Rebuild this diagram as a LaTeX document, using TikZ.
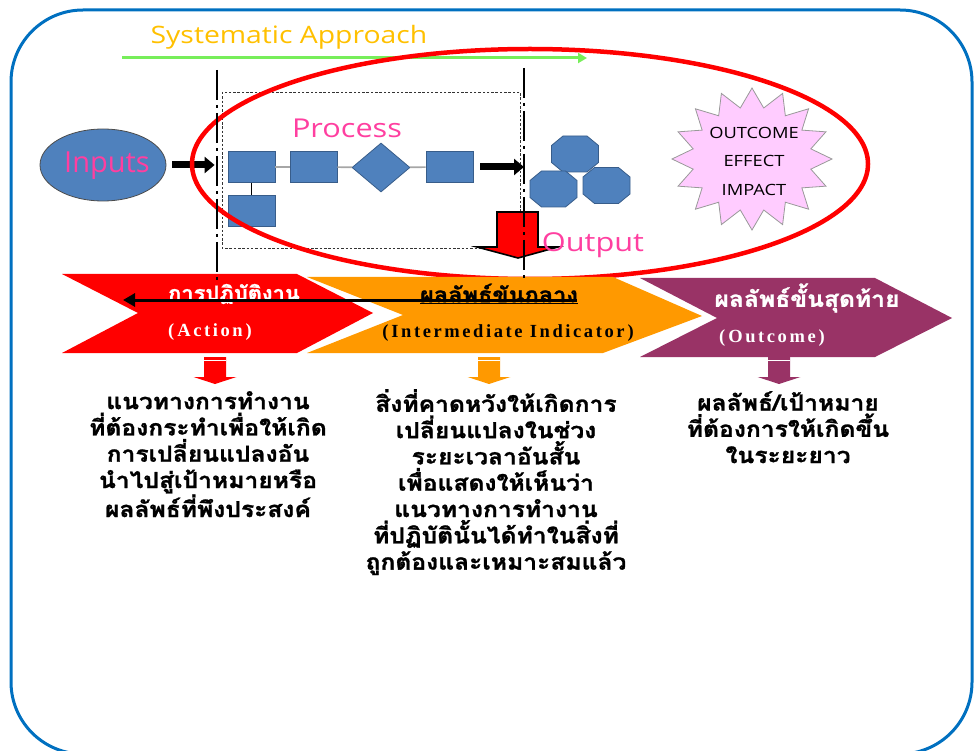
\documentclass[tikz,border=0pt]{standalone}
\usepackage{fontspec}
\setmainfont{Liberation Serif}
\newfontfamily\thaifont[Script=Thai, FakeStretch=1.12, BoldFeatures={FakeBold=1.2}]{Loma}
\newfontfamily\uisans{Open Sans}
\newfontfamily\uiwide[FakeStretch=1.18]{Open Sans}
\newfontfamily\spacedserif[LetterSpace=14]{Liberation Serif}
\usetikzlibrary{arrows.meta,shapes.geometric}

\definecolor{frameblue}{HTML}{0070C0}
\definecolor{shapeblue}{HTML}{4F81BD}
\definecolor{shapeedge}{HTML}{385D8A}
\definecolor{hotpink}{HTML}{FF3FA0}
\definecolor{gold}{HTML}{FFC000}
\definecolor{lightgreen}{HTML}{77EE5A}
\definecolor{actred}{HTML}{FF0000}
\definecolor{midorange}{HTML}{FF9900}
\definecolor{plum}{HTML}{993366}
\definecolor{burstpink}{HTML}{FFCCFF}

\tikzset{
  box/.style={rectangle, fill=shapeblue, draw=shapeedge, line width=0.8pt,
    minimum width=47pt, minimum height=31pt, inner sep=0pt},
  gem/.style={diamond, fill=shapeblue, draw=shapeedge, line width=0.8pt,
    minimum width=58pt, minimum height=49pt, inner sep=0pt},
  link/.style={draw=gray!70, line width=1.6pt},
  stem/.style={draw=black, line width=0.7pt},
  fatarrow/.style={line width=7pt, -{Triangle[length=10pt,width=16pt]}},
  phase/.style={line width=2.6pt, dash pattern=on 30pt off 5pt on 3pt off 5pt},
  pinklabel/.style={text=hotpink, font=\uiwide\fontsize{25}{28}\selectfont, inner sep=0pt},
  chevtitle/.style={font=\thaifont\bfseries\fontsize{22}{24}\selectfont, inner sep=0pt},
  chevsub/.style={font=\spacedserif\bfseries\fontsize{18.5}{21}\selectfont, inner sep=0pt},
  desc/.style={font=\thaifont\bfseries\fontsize{22}{26.3}\selectfont, align=center,
    anchor=north, inner sep=0pt},
  octa/.pic={\path[fill=shapeblue, draw=shapeedge, line width=0.8pt]
    (-12,-18) -- (12,-18) -- (23.5,-8.5) -- (23.5,8.5) -- (12,18) -- (-12,18)
    -- (-23.5,8.5) -- (-23.5,-8.5) -- cycle;},
  blockdown/.pic={\fill[pic actions] (-11,0) -- (11,0) -- (11,20) -- (21.5,20)
    -- (0,27) -- (-21.5,20) -- (-11,20) -- cycle;
    \draw[white, line width=1pt] (-11,3.5) -- (11,3.5);},
}

\begin{document}
\begin{tikzpicture}[x=1pt, y=-1pt]
\useasboundingbox (0,0) rectangle (974,751);
\clip (0,0) rectangle (974,751);

% outer frame
\draw[frameblue, line width=3pt, rounded corners=72pt] (11,10) rectangle (972,754);

% heading and direction arrow
\node[text=gold, font=\uiwide\fontsize{24}{27}\selectfont, inner sep=0pt] (title) at (289,37) {Systematic Approach};
\coordinate (flowA) at (122,58);
\coordinate (flowB) at (587,58);
\draw[lightgreen, line width=3pt, -{Triangle[length=9pt,width=10pt]}] (flowA) -- (flowB);

% process frame
\draw[black!80, line width=0.7pt, dash pattern=on 2.5pt off 1.8pt] (222,92) rectangle (520,248);

% inputs
\node[ellipse, fill=shapeblue, draw=black!70, line width=0.8pt, minimum width=126pt,
  minimum height=72pt, inner sep=0pt] (inputs) at (103,165) {};
\node[pinklabel, font=\uisans\fontsize{29}{32}\selectfont] (inputstxt) at (107,166) {Inputs};

% process chain
\node[pinklabel, font=\uiwide\fontsize{26}{29}\selectfont] (proc) at (347,128) {Process};
\node[box] (s1) at (251.5,167) {};
\node[box] (s2) at (313.5,167) {};
\node[gem] (g1) at (381,167.5) {};
\node[box] (s3) at (449.5,167) {};
\node[box] (s4) at (251.5,210.5) {};
\draw[link] (s1) -- (s2);
\draw[link] (s2) -- (g1);
\draw[link] (g1) -- (s3);
\draw[stem] (s1) -- (s4);

\draw[fatarrow] ([xshift=6pt]inputs.east) -- ([xshift=-13pt]inputs.east -| s1.west);
\coordinate (outin) at (524,167);
\draw[fatarrow] ([xshift=7pt]s3.east) -- (outin);

% outputs
\pic at (575,154) {octa};
\pic at (553.5,189) {octa};
\pic at (606.5,185.5) {octa};

% outcome burst
\draw[fill=burstpink, draw=gray!80, line width=0.8pt]
  plot[domain=0:31, samples=32, variable=\k]
  ({752 + ifthenelse(mod(\k,2)==0,80,60)*cos(90+\k*11.25)},
   {159 - ifthenelse(mod(\k,2)==0,71,52)*sin(90+\k*11.25)}) -- cycle;
\node[align=center, font=\uiwide\fontsize{15.5}{28.5}\selectfont, inner sep=0pt] (burst) at (754,161)
  {OUTCOME\\EFFECT\\IMPACT};

% output arrow
\draw[fill=actred, draw=black, line width=1.6pt]
  (497,212) -- (538,212) -- (538,247) -- (558,247) -- (518,258) -- (477,247) -- (497,247) -- cycle;
\node[pinklabel, font=\uiwide\fontsize{26}{30}\selectfont] (outtxt) at (593,245) {Output};

% scope ring
\draw[actred, line width=4.5pt] (530,164) ellipse [x radius=338pt, y radius=115pt];

% chevrons
\fill[actred] (62,274) -- (297,274) -- (373,313) -- (297,353) -- (62,353) -- (138,313) -- cycle;
\fill[midorange] (307,277) -- (613,277) -- (702,316) -- (603,353) -- (307,353) -- (403,315) -- cycle;
\fill[plum] (640,278) -- (875,278) -- (952,318) -- (875,357) -- (640,357) -- (717,318) -- cycle;

\node[chevtitle, text=white, font=\thaifont\bfseries\fontsize{19.5}{22}\selectfont] (act) at (234,294) {การปฏิบัติงาน};
\node[chevsub, text=white] (actsub) at (210,332) {(\kern3pt Action\kern3pt)};
\node[chevtitle, text=black, font=\thaifont\bfseries\fontsize{21}{24}\selectfont] (mid) at (499,294) {\underline{ผลลัพธ์ขันกลาง}};
\node[chevsub, text=black] (midsub) at (508,333) {(\kern3pt Intermediate Indicator\kern3pt)};
\node[chevtitle, text=white] (fin) at (807,298) {ผลลัพธ์ขั้นสุดท้าย};
\node[chevsub, text=white] (finsub) at (772,338) {(\kern3pt Outcome\kern3pt)};

% backward arrow through the chevrons
\coordinate (backA) at (577,300);
\coordinate (backB) at (123,300);
\draw[black, line width=3pt, -{Triangle[length=12pt,width=13pt]}] (backA) -- (backB);

% phase boundaries
\coordinate (p1top) at (217,70);
\coordinate (p1bot) at (217,284);
\coordinate (p2top) at (524,68);
\coordinate (p2bot) at (524,282);
\draw[phase] (p1top) -- (p1bot);
\draw[phase] (p2top) -- (p2bot);

% arrows to the descriptions
\pic[fill=actred] at (215,357) {blockdown};
\pic[fill=midorange] at (489,357) {blockdown};
\pic[fill=plum] at (779,357) {blockdown};

% descriptions
\node[desc] (d1) at (208,391) {แนวทางการทำงาน\\ที่ต้องกระทำเพื่อให้เกิด\\การเปลี่ยนแปลงอัน\\นำไปสู่เป้าหมายหรือ\\ผลลัพธ์ที่พึงประสงค์};
\node[desc] (d2) at (496,389) {สิ่งที่คาดหวังให้เกิดการ\\เปลี่ยนแปลงในช่วง\\ระยะเวลาอันสั้น\\เพื่อแสดงให้เห็นว่า\\แนวทางการทำงาน\\ที่ปฏิบัตินั้นได้ทำในสิ่งที่\\ถูกต้องและเหมาะสมแล้ว};
\node[desc] (d3) at (788,391) {ผลลัพธ์/เป้าหมาย\\ที่ต้องการให้เกิดขึ้น\\ในระยะยาว};
\end{tikzpicture}
\end{document}
